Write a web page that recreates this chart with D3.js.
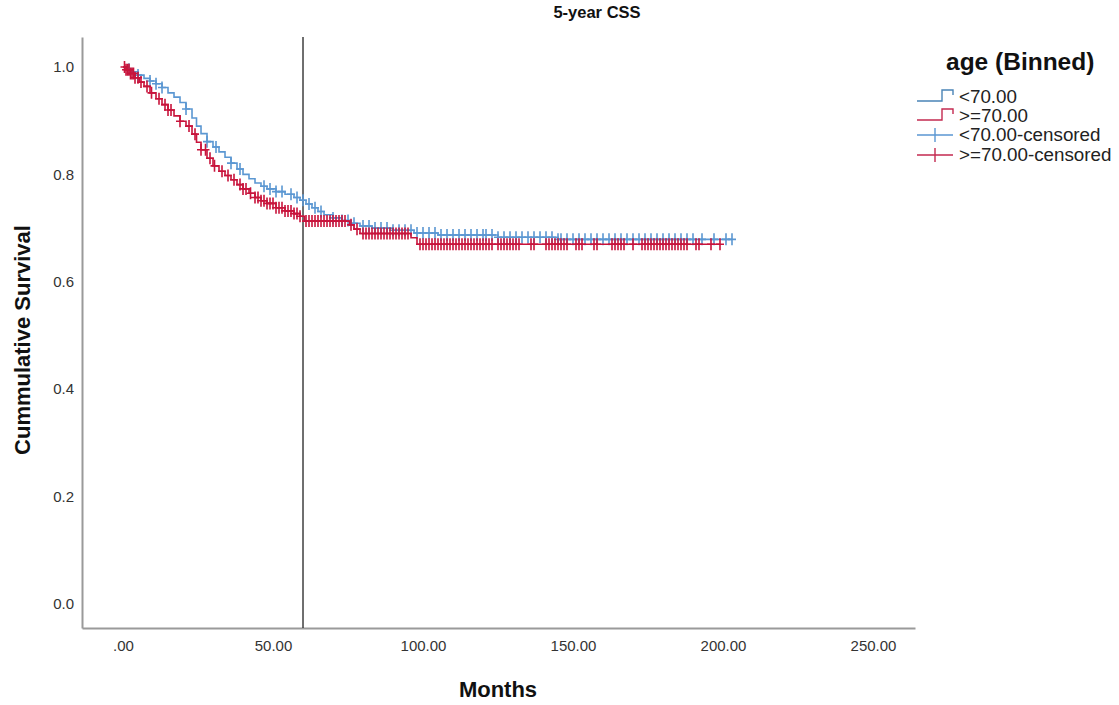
<!DOCTYPE html>
<html lang="en">
<head>
    <meta charset="UTF-8">
    <title>5-year CSS</title>
    <script src="https://d3js.org/d3.v7.min.js"></script>
    <style type="text/css">
        body { margin: 0; background: #fff; }
        svg { font-family: "Liberation Sans", Arial, sans-serif; }
        .axis path { stroke: #9a9a9a; stroke-width: 2px; }
        .axis text { font-size: 15px; fill: #333; }
        .km { fill: none; stroke-width: 1.6px; }
        .cens { stroke-width: 1.6px; }
        .title { font-size: 16.5px; font-weight: bold; fill: #111; }
        .axis-title { font-size: 22px; font-weight: bold; fill: #111; }
        .legend-title { font-size: 24.5px; font-weight: bold; fill: #111; }
        .legend-item { font-size: 18.8px; fill: #222; }
    </style>
</head>
<body>
<script type="text/javascript">
    // <70.00 group: event times and survival after each event
    const youngTimes = [1.5, 3, 5, 7, 9, 11, 13, 15, 17, 19, 21, 23, 24.5, 26, 28, 30, 32, 34, 36, 38, 40, 42, 44, 46, 48, 51, 54, 57, 59, 61, 63, 65, 67, 70, 73, 76, 79, 83, 90, 97, 105, 125, 145];
    const youngSurv = [0.996, 0.991, 0.985, 0.979, 0.974, 0.969, 0.962, 0.952, 0.944, 0.934, 0.922, 0.905, 0.89, 0.876, 0.861, 0.851, 0.842, 0.832, 0.821, 0.81, 0.8, 0.792, 0.784, 0.778, 0.773, 0.768, 0.763, 0.757, 0.752, 0.745, 0.738, 0.731, 0.725, 0.719, 0.714, 0.709, 0.704, 0.7, 0.696, 0.691, 0.687, 0.683, 0.679];
    const youngCensored = [2, 5, 9, 11, 13, 21, 28, 31, 36, 39, 47, 49, 51, 53, 56, 58, 60, 62, 64, 66, 70, 73, 75, 77, 80, 82, 84, 86, 88, 90, 92, 94, 96, 98, 100, 102, 104, 106, 108, 110, 112, 114, 116, 118, 120, 121, 123, 125, 127, 129, 131, 133, 135, 137, 139, 141, 143, 145, 146, 148, 150, 152, 154, 156, 158, 160, 162, 164, 166, 168, 170, 172, 174, 176, 178, 180, 182, 184, 186, 188, 190, 193, 197, 201, 203];

    // >=70.00 group
    const oldTimes = [1, 2.5, 4, 5.5, 7, 9, 11, 13, 15, 17, 19, 21, 23, 24.5, 26, 28, 30, 32, 34, 36, 38, 40, 42, 44, 46, 48, 51, 54, 57, 59, 60.5, 75.5, 77, 79, 96, 98];
    const oldSurv = [0.995, 0.988, 0.98, 0.972, 0.964, 0.952, 0.941, 0.93, 0.92, 0.909, 0.899, 0.89, 0.875, 0.86, 0.846, 0.83, 0.816, 0.806, 0.798, 0.79, 0.781, 0.773, 0.765, 0.757, 0.751, 0.746, 0.738, 0.732, 0.727, 0.722, 0.713, 0.706, 0.698, 0.69, 0.682, 0.67];
    const oldCensored = [0.5, 1, 1.5, 2, 2.5, 3, 3.5, 4, 5, 6, 8, 9.5, 12, 14, 15, 16, 19, 22, 24, 26, 27.5, 29, 30.5, 33, 35, 37, 39, 40, 41, 42.5, 44, 45, 46, 47, 48, 49, 50, 51, 52, 53, 54, 55, 56, 57, 58, 59, 61, 62, 63, 64, 65, 66, 67, 68, 69, 70, 71, 72, 73, 74, 76, 78, 80, 81, 82, 83, 84, 85, 86, 87, 88, 89, 90, 91, 92, 93, 94, 95, 99, 100, 101, 102, 103, 104, 105, 106, 107, 108, 109, 110, 111, 112, 113, 114, 115, 116, 117, 118, 119, 120, 121, 122, 123, 125, 126, 127, 128, 129, 130, 131, 132, 136, 137, 141, 142, 143, 144, 145, 146, 147, 148, 151, 152, 153, 157, 158, 163, 164, 165, 166, 167, 170, 173, 174, 175, 176, 177, 178, 179, 180, 181, 182, 183, 184, 185, 186, 187, 188, 191, 192, 196, 199];

    const xTicks = [0, 50, 100, 150, 200, 250];
    const xTickLabels = [".00", "50.00", "100.00", "150.00", "200.00", "250.00"];
    const yTicks = [0, 0.2, 0.4, 0.6, 0.8, 1.0];
    const refLineMonth = 60;

    const groups = [
        { name: "<70.00", times: youngTimes, surv: youngSurv, cens: youngCensored, color: "#5b97d2", legendColor: "#4a84b6" },
        { name: ">=70.00", times: oldTimes, surv: oldSurv, cens: oldCensored, color: "#c8143c", legendColor: "#c42a50" }
    ];

    const width = 1119;
    const height = 705;

    const svg = d3.select("body")
        .append("svg")
        .attr("width", width)
        .attr("height", height);

    const x = d3.scaleLinear().domain([-13.67, 264]).range([82, 915]);
    const y = d3.scaleLinear().domain([-0.045, 1.056]).range([628, 37]);

    // axes
    svg.append("g")
        .attr("class", "axis")
        .attr("transform", "translate(0,628)")
        .call(d3.axisBottom(x).tickValues(xTicks).tickSize(0).tickPadding(12)
            .tickFormat((d, i) => xTickLabels[i]))
        .call(g => g.selectAll(".tick text").attr("dy", "0.71em"));

    svg.append("g")
        .attr("class", "axis")
        .attr("transform", "translate(82,0)")
        .call(d3.axisLeft(y).tickValues(yTicks).tickSize(0).tickPadding(8)
            .tickFormat(d3.format(".1f")));

    svg.selectAll(".axis .tick line").remove();
    svg.selectAll(".axis text").attr("font-family", null);

    // 5-year reference line
    svg.append("line")
        .attr("x1", x(refLineMonth)).attr("x2", x(refLineMonth))
        .attr("y1", y.range()[1]).attr("y2", y.range()[0])
        .attr("stroke", "#222")
        .attr("stroke-width", 1.3);

    const line = d3.line()
        .x(d => x(d[0]))
        .y(d => y(d[1]))
        .curve(d3.curveStepAfter);

    groups.forEach(g => {
        const lastT = d3.max(g.cens.concat(g.times));
        const pts = [[0, 1]].concat(g.times.map((t, i) => [t, g.surv[i]]));
        pts.push([lastT, g.surv[g.surv.length - 1]]);

        svg.append("path")
            .datum(pts)
            .attr("class", "km")
            .attr("stroke", g.color)
            .attr("d", line);

        const survAt = t => {
            const i = d3.bisectRight(g.times, t);
            return i === 0 ? 1 : g.surv[i - 1];
        };

        const marks = svg.append("g").attr("stroke", g.color).attr("class", "cens");
        marks.selectAll("path")
            .data(g.cens)
            .join("path")
            .attr("d", t => {
                const cx = x(t), cy = y(survAt(t));
                return `M${cx - 4},${cy}H${cx + 4}M${cx},${cy - 6}V${cy + 6}`;
            });
    });

    // title
    svg.append("text")
        .attr("class", "title")
        .attr("x", 597)
        .attr("y", 18)
        .attr("text-anchor", "middle")
        .text("5-year CSS");

    svg.append("text")
        .attr("class", "axis-title")
        .attr("transform", "translate(30,340) rotate(-90)")
        .attr("text-anchor", "middle")
        .text("Cummulative Survival");

    svg.append("text")
        .attr("class", "axis-title")
        .attr("x", 498)
        .attr("y", 697)
        .attr("text-anchor", "middle")
        .text("Months");

    // legend
    const legend = svg.append("g");
    legend.append("text")
        .attr("class", "legend-title")
        .attr("x", 946)
        .attr("y", 70)
        .text("age (Binned)");

    const legendRows = [
        { label: groups[0].name, color: groups[0].legendColor, kind: "step" },
        { label: groups[1].name, color: groups[1].legendColor, kind: "step" },
        { label: groups[0].name + "-censored", color: groups[0].color, kind: "cens" },
        { label: groups[1].name + "-censored", color: groups[1].legendColor, kind: "cens" }
    ];
    const rowY = [97, 116, 135, 155];

    legendRows.forEach((r, i) => {
        const cy = rowY[i];
        legend.append("path")
            .attr("fill", "none")
            .attr("stroke", r.color)
            .attr("stroke-width", 1.4)
            .attr("d", r.kind === "step"
                ? `M917,${cy + 4}H942V${cy - 7}H953V${cy - 2}`
                : `M917,${cy}H953M935,${cy - 7}V${cy + 7}`);
        legend.append("text")
            .attr("class", "legend-item")
            .attr("x", 959)
            .attr("y", cy + 6)
            .text(r.label);
    });
</script>
</body>
</html>
